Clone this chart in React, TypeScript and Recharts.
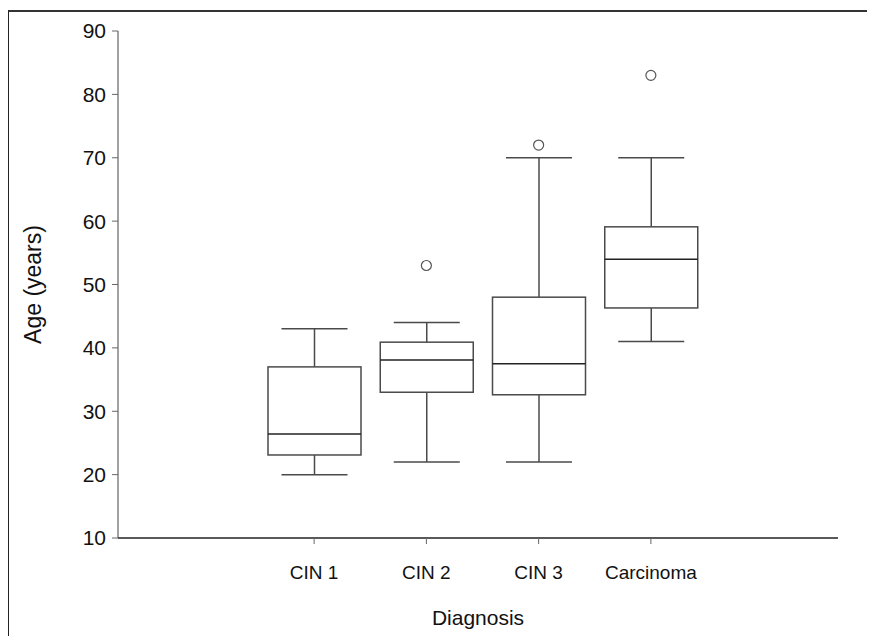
import React from 'react';
import { ComposedChart, Bar, Scatter, XAxis, YAxis } from 'recharts';

const categories = ['CIN 1', 'CIN 2', 'CIN 3', 'Carcinoma'];
const whiskerLow = [20, 22, 22, 41];
const quartile1 = [23.1, 33, 32.6, 46.3];
const medians = [26.4, 38.1, 37.5, 54];
const quartile3 = [37, 40.9, 48, 59.1];
const whiskerHigh = [43, 44, 70, 70];
const outliers: (number | null)[] = [null, 53, 72, 83];
const yTicks = [10, 20, 30, 40, 50, 60, 70, 80, 90];

const data = categories.map((name, i) => ({
  name,
  range: [whiskerLow[i], whiskerHigh[i]],
  low: whiskerLow[i],
  q1: quartile1[i],
  med: medians[i],
  q3: quartile3[i],
  high: whiskerHigh[i],
  outlier: outliers[i],
}));

const LINE = '#4a4a4a';
const FONT = 'Liberation Sans, Arial, sans-serif';

const BoxShape = (props: any) => {
  const { x, y, width, height, payload } = props;
  if (x == null || y == null) return null;
  const top = Math.min(y, y + height);
  const bottom = Math.max(y, y + height);
  const { low, high, q1, med, q3 } = payload;
  const py = (v: number) => top + ((high - v) / (high - low)) * (bottom - top);
  const cx = x + width / 2;
  const capHalf = width * 0.355;
  return (
    <g>
      <line x1={cx} x2={cx} y1={py(high)} y2={py(q3)} stroke={LINE} strokeWidth={1.5} />
      <line x1={cx} x2={cx} y1={py(q1)} y2={py(low)} stroke={LINE} strokeWidth={1.5} />
      <line x1={cx - capHalf} x2={cx + capHalf} y1={py(high)} y2={py(high)} stroke={LINE} strokeWidth={1.5} />
      <line x1={cx - capHalf} x2={cx + capHalf} y1={py(low)} y2={py(low)} stroke={LINE} strokeWidth={1.5} />
      <rect x={x} y={py(q3)} width={width} height={py(q1) - py(q3)} fill="#fff" stroke={LINE} strokeWidth={1.5} />
      <line x1={x} x2={x + width} y1={py(med)} y2={py(med)} stroke="#222" strokeWidth={1.5} />
    </g>
  );
};

const OutlierShape = (props: any) => {
  const { cx, cy, payload } = props;
  if (payload == null || payload.outlier == null || cx == null || cy == null) return <g />;
  return <circle cx={cx} cy={cy} r={5} fill="#fff" stroke="#555" strokeWidth={1.2} />;
};

const YLabel = (props: any) => {
  const vb = props.viewBox || {};
  const x = 25;
  const y = (vb.y ?? 23) + (vb.height ?? 507) / 2;
  return (
    <text x={x} y={y} transform={`rotate(-90, ${x}, ${y})`} textAnchor="middle" dominantBaseline="central"
      fontFamily={FONT} fontSize={23} fill="#111">
      Age (years)
    </text>
  );
};

const XLabel = (props: any) => {
  const vb = props.viewBox || {};
  const x = (vb.x ?? 110) + (vb.width ?? 720) / 2;
  const y = (vb.y ?? 530) + 79;
  return (
    <text x={x} y={y} textAnchor="middle" dominantBaseline="central"
      fontFamily={FONT} fontSize={21} fill="#111">
      Diagnosis
    </text>
  );
};

export default function App() {
  return (
    <div style={{ position: 'relative', width: 867, height: 628, background: '#fff' }}>
      <div style={{ position: 'absolute', left: 0, top: 2, right: -10, bottom: -10, borderTop: '2px solid #333', borderLeft: '1px solid #222' }} />
      <ComposedChart width={867} height={628} data={data} margin={{ top: 23, right: 37, left: 0, bottom: 0 }} style={{ position: 'absolute', left: 0, top: 0 }}>
        <XAxis
          dataKey="name"
          height={98}
          padding={{ left: 140, right: 131 }}
          tickSize={6}
          tickMargin={22}
          axisLine={{ stroke: '#222', strokeWidth: 1.5 }}
          tickLine={{ stroke: '#666' }}
          tick={{ fill: '#111', fontSize: 19, fontFamily: FONT }}
          label={<XLabel />}
        />
        <XAxis xAxisId="top" dataKey="name" orientation="top" height={0} tick={false} tickLine={false} axisLine={{ stroke: '#777', strokeWidth: 1.5 }} />
        <YAxis
          width={110}
          domain={[10, 90]}
          ticks={yTicks}
          tickSize={6}
          tickMargin={6}
          axisLine={{ stroke: '#444', strokeWidth: 1 }}
          tickLine={{ stroke: '#666' }}
          tick={{ fill: '#111', fontSize: 21, fontFamily: FONT }}
          label={<YLabel />}
          allowDataOverflow
        />
        <YAxis yAxisId="right" orientation="right" width={0} domain={[10, 90]} tick={false} tickLine={false} axisLine={{ stroke: '#777', strokeWidth: 1.5 }} />
        <Bar dataKey="range" barSize={93} shape={<BoxShape />} isAnimationActive={false} />
        <Scatter dataKey="outlier" shape={<OutlierShape />} isAnimationActive={false} />
      </ComposedChart>
    </div>
  );
}
